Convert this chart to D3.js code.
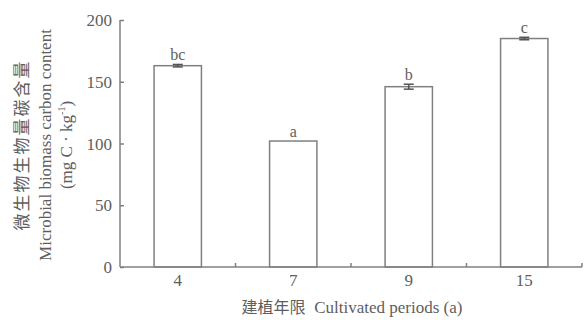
<!DOCTYPE html>
<html>
<head>
<meta charset="utf-8">
<script src="https://cdn.jsdelivr.net/npm/d3@7"></script>
<style>
  body { margin: 0; background: #fff; }
  text { font-family: "Liberation Serif", "Times New Roman", serif; fill: #5e5e5e; }
  .cjk { font-family: "Noto Sans CJK SC", sans-serif; }
</style>
</head>
<body>
<div class="chart"></div>
<script>
var svgWidth = 584;
var svgHeight = 320;

// data
var periods = ["4", "7", "9", "15"];
var carbon = [163, 102, 146, 185];
var errors = [1, 0, 2, 1];
var letters = ["bc", "a", "b", "c"];
var yTicks = [0, 50, 100, 150, 200];

var lineColor = "#808080";

var svg = d3.select(".chart")
  .append("svg")
  .attr("width", svgWidth)
  .attr("height", svgHeight);

var x = d3.scaleBand()
  .domain(periods)
  .range([120, 582])
  .paddingInner(0.59)
  .paddingOuter(0.295);

var y = d3.scaleLinear()
  .domain([0, 200])
  .range([267, 20]);

// y axis, ticks point inward
var leftAxis = d3.axisRight(y).tickValues(yTicks).tickSize(4).tickFormat("");
var yg = svg.append("g")
  .attr("transform", "translate(120,0)")
  .call(leftAxis);
yg.select(".domain").remove();
yg.selectAll(".tick line").attr("stroke", lineColor).attr("stroke-width", 1.5);
yg.append("line")
  .attr("x1", 0).attr("x2", 0)
  .attr("y1", y(200)).attr("y2", y(0))
  .attr("stroke", lineColor).attr("stroke-width", 1.5);

svg.selectAll(".ylabel")
  .data(yTicks)
  .enter()
  .append("text")
  .attr("x", 112)
  .attr("y", d => y(d) + 6)
  .attr("text-anchor", "end")
  .attr("font-size", 17)
  .text(d => d);

// x axis: ticks at category boundaries, pointing up
var boundaries = periods.slice(1).map(p => x(p) - x.step() * x.paddingInner() / 2);
boundaries.push(582);
svg.append("line")
  .attr("x1", 120).attr("x2", 582)
  .attr("y1", y(0)).attr("y2", y(0))
  .attr("stroke", lineColor).attr("stroke-width", 1.5);
svg.selectAll(".xtick")
  .data(boundaries)
  .enter()
  .append("line")
  .attr("x1", d => d).attr("x2", d => d)
  .attr("y1", y(0)).attr("y2", y(0) - 4)
  .attr("stroke", lineColor).attr("stroke-width", 1.5);

svg.selectAll(".xlabel")
  .data(periods)
  .enter()
  .append("text")
  .attr("x", d => x(d) + x.bandwidth() / 2)
  .attr("y", 286)
  .attr("text-anchor", "middle")
  .attr("font-size", 17)
  .text(d => d);

// bars
svg.selectAll(".bar")
  .data(carbon)
  .enter()
  .append("rect")
  .attr("x", (d, i) => x(periods[i]))
  .attr("y", d => y(d))
  .attr("width", x.bandwidth())
  .attr("height", d => y(0) - y(d))
  .attr("fill", "none")
  .attr("stroke", lineColor)
  .attr("stroke-width", 1.5);

// error bars (skip the ones too small to see)
var errG = svg.selectAll(".err")
  .data(carbon.map((d, i) => ({v: d, e: errors[i], p: periods[i]})).filter(d => d.e > 0))
  .enter()
  .append("g");
var cx = d => x(d.p) + x.bandwidth() / 2;
errG.append("line")
  .attr("x1", cx).attr("x2", cx)
  .attr("y1", d => y(d.v + d.e))
  .attr("y2", d => y(d.v - d.e))
  .attr("stroke", "#555").attr("stroke-width", 1.5);
errG.append("line")
  .attr("x1", d => cx(d) - 5).attr("x2", d => cx(d) + 5)
  .attr("y1", d => y(d.v + d.e)).attr("y2", d => y(d.v + d.e))
  .attr("stroke", "#555").attr("stroke-width", 1.5);
errG.append("line")
  .attr("x1", d => cx(d) - 5).attr("x2", d => cx(d) + 5)
  .attr("y1", d => y(d.v - d.e)).attr("y2", d => y(d.v - d.e))
  .attr("stroke", "#555").attr("stroke-width", 1.5);

// significance letters
svg.selectAll(".letter")
  .data(letters)
  .enter()
  .append("text")
  .attr("x", (d, i) => x(periods[i]) + x.bandwidth() / 2)
  .attr("y", (d, i) => y(carbon[i] + errors[i]) - 4)
  .attr("text-anchor", "middle")
  .attr("font-size", 16)
  .text(d => d);

// x axis title
var xt = svg.append("text")
  .attr("x", 352)
  .attr("y", 313)
  .attr("text-anchor", "middle")
  .attr("font-size", 17);
xt.append("tspan").attr("class", "cjk").attr("font-size", 16).text("建植年限");
xt.append("tspan").text("\u00a0 Cultivated periods (a)");

// y axis title, three rotated lines
var yt = svg.append("g")
  .attr("transform", "translate(0,145) rotate(-90)");
yt.append("text")
  .attr("class", "cjk")
  .attr("x", 0).attr("y", 28)
  .attr("text-anchor", "middle")
  .attr("font-size", 17)
  .attr("letter-spacing", 2)
  .text("微生物生物量碳含量");
yt.append("text")
  .attr("x", 0).attr("y", 51)
  .attr("text-anchor", "middle")
  .attr("font-size", 17)
  .text("Microbial biomass carbon content");
var unit = yt.append("text")
  .attr("x", 0).attr("y", 72)
  .attr("text-anchor", "middle")
  .attr("font-size", 17);
unit.append("tspan").text("(mg C · kg");
unit.append("tspan").attr("font-size", 10).attr("dy", -7).text("-1");
unit.append("tspan").attr("dy", 7).text(")");
</script>
</body>
</html>
